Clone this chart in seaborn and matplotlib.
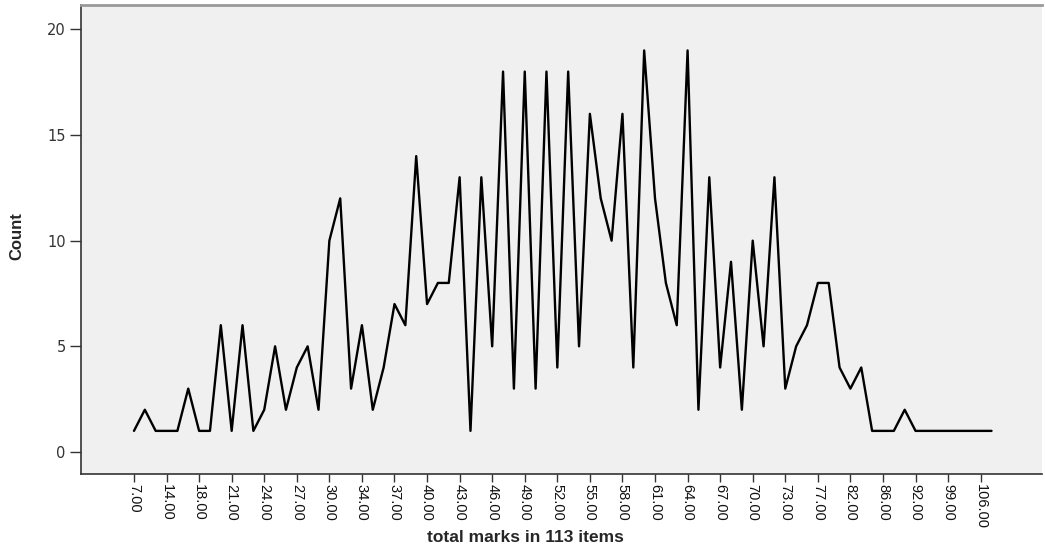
import numpy as np
import pandas as pd
import seaborn as sns
import matplotlib.pyplot as plt

# total marks (categories, in order) and their counts
marks = [7, 11, 13, 14, 16, 17, 18, 19, 20, 21, 22, 23, 24, 25, 26, 27, 28, 29,
         30, 31, 33, 34, 35, 36, 37, 38, 39, 40, 41, 42, 43, 44, 45, 46, 47, 48,
         49, 50, 51, 52, 53, 54, 55, 56, 57, 58, 59, 60, 61, 62, 63, 64, 65, 66,
         67, 68, 69, 70, 71, 72, 73, 74, 75, 77, 79, 80, 82, 84, 85, 86, 88, 90,
         92, 94, 96, 99, 101, 103, 106, 108]
counts = [1, 2, 1, 1, 1, 3, 1, 1, 6, 1, 6, 1, 2, 5, 2, 4, 5, 2,
          10, 12, 3, 6, 2, 4, 7, 6, 14, 7, 8, 8, 13, 1, 13, 5, 18, 3, 18, 3, 18, 4, 18, 5,
          16, 12, 10, 16, 4, 19, 12, 8, 6, 19, 2, 13, 4, 9, 2, 10, 5, 13, 3, 5, 6,
          8, 8, 4, 3, 4, 1, 1, 1, 2, 1, 1, 1, 1, 1, 1, 1, 1]
y_ticks = [0, 5, 10, 15, 20]

df = pd.DataFrame({"pos": np.arange(len(marks)), "count": counts})
labels = [f"{m:.2f}" for m in marks]

sns.set_style("white")
sans = ["Liberation Sans", "DejaVu Sans"]

fig = plt.figure(figsize=(10.45, 5.49), dpi=100)
ax = fig.add_axes([81 / 1045, 75 / 549, (1042 - 81) / 1045, (474 - 5) / 549])
ax.set_facecolor("#f0f0f0")

sns.lineplot(data=df, x="pos", y="count", color="black", linewidth=1.7, ax=ax)

ax.set_xlim(-4.88, 83.65)
ax.set_ylim(-1.04, 21.15)

# SPSS style: label every third category
tick_pos = df["pos"].values[::3]
ax.set_xticks(tick_pos)
ax.set_xticklabels(labels[::3], rotation=-90, fontsize=10.5, family=sans,
                   va="top", ha="center", color="#111111")
ax.set_yticks(y_ticks)
ax.set_yticklabels([str(t) for t in y_ticks], fontsize=10.5, family="DejaVu Sans",
                   color="#333333")

ax.tick_params(axis="x", direction="out", length=6, width=1, pad=1,
               color="#333333", bottom=True)
ax.tick_params(axis="y", direction="out", length=8, width=1, pad=3,
               color="#333333", left=True)

for side in ["left", "bottom"]:
    ax.spines[side].set_color("#333333")
    ax.spines[side].set_linewidth(1.2)
ax.spines["top"].set_color("#999999")
ax.spines["top"].set_linewidth(2)
ax.spines["right"].set_visible(False)

ax.set_xlabel("")
ax.set_ylabel("")
fig.text(17 / 1045, 1 - 236 / 549, "Count", rotation=90, fontsize=12,
         fontweight="bold", family=sans, ha="center", va="center")
fig.text(525 / 1045, 1 - 537 / 549, "total marks in 113 items", fontsize=12.5,
         fontweight="bold", family=sans, ha="center", va="center")

fig.savefig("out.png", dpi=100)
